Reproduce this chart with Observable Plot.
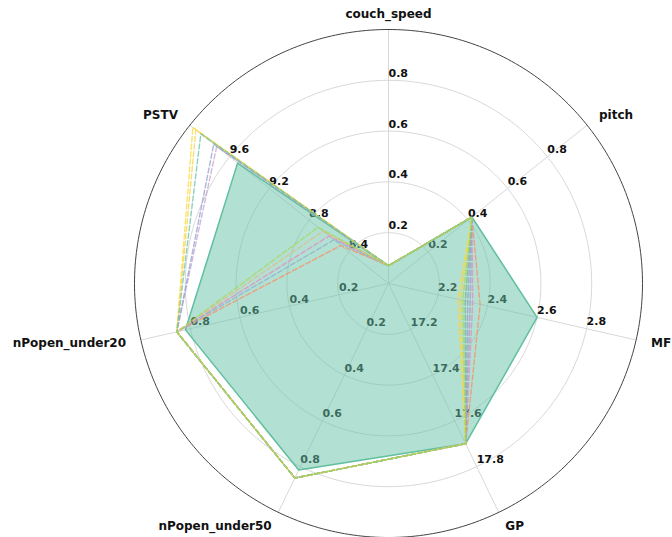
<!DOCTYPE html>
<html><head><meta charset="utf-8">
<script src="https://cdn.jsdelivr.net/npm/d3@7"></script>
<script src="https://cdn.jsdelivr.net/npm/@observablehq/plot@0.6"></script>
<style>body{margin:0;background:#fff;font-family:"DejaVu Sans",sans-serif;}</style>
</head><body><div id="chart"></div>
<script>
// ---- data ----
const axes = ["couch_speed", "pitch", "MF", "GP", "nPopen_under50", "nPopen_under20", "PSTV"];
const axisMin = [0, 0, 2, 17, 0, 0, 8];
const axisMax = [1, 1, 3, 18, 1, 1, 10];
const tickLabels = [
  ["0.2", "0.4", "0.6", "0.8"],
  ["0.2", "0.4", "0.6", "0.8"],
  ["2.2", "2.4", "2.6", "2.8"],
  ["17.2", "17.4", "17.6", "17.8"],
  ["0.2", "0.4", "0.6", "0.8"],
  ["0.2", "0.4", "0.6", "0.8"],
  ["8.4", "8.8", "9.2", "9.6"]
];
// filled reference profile
const meanValues = [0.07, 0.42, 2.60, 17.70, 0.815, 0.82, 9.52];
// dashed profiles
const seriesNames = ["s1", "s2", "s3", "s4", "s5", "s6", "s7", "s8", "s9", "s10"];
const seriesColors = ["#fc8d62", "#e78ac3", "#8db0d0", "#e5b98a", "#c7a0d0", "#8da0cb", "#f5d34a", "#ffd92f", "#66c2a5", "#a6d854"];
const seriesValues = [
  [0.07, 0.42, 2.37, 17.70, 0.85, 0.855, 8.48],
  [0.07, 0.42, 2.34, 17.70, 0.85, 0.855, 8.60],
  [0.07, 0.42, 2.33, 17.70, 0.85, 0.855, 8.55],
  [0.07, 0.42, 2.31, 17.70, 0.85, 0.855, 8.66],
  [0.07, 0.42, 2.33, 17.70, 0.85, 0.855, 9.73],
  [0.07, 0.42, 2.32, 17.70, 0.85, 0.855, 9.76],
  [0.07, 0.42, 2.29, 17.70, 0.85, 0.855, 9.94],
  [0.07, 0.42, 2.28, 17.70, 0.85, 0.855, 9.97],
  [0.07, 0.42, 2.31, 17.70, 0.85, 0.855, 9.89],
  [0.07, 0.42, 2.30, 17.70, 0.85, 0.855, 8.71]
];

// ---- geometry helpers ----
const n = axes.length;
const ang = i => i * 2 * Math.PI / n;
const norm = (v, i) => (v - axisMin[i]) / (axisMax[i] - axisMin[i]);
const pt = (r, i) => ({x: r * Math.sin(ang(i)), y: r * Math.cos(ang(i))});

const meanPts = meanValues.map((v, i) => ({axis: axes[i], ...pt(norm(v, i), i)}));
const dashPts = seriesValues.flatMap((vals, s) =>
  vals.map((v, i) => ({series: seriesNames[s], color: seriesColors[s], axis: axes[i], ...pt(norm(v, i), i)})));

const ringPts = [1, 2, 3, 4].flatMap(k => d3.range(0, 361, 2).map(a => ({
  k, x: (k / 5) * Math.sin(a * Math.PI / 180), y: (k / 5) * Math.cos(a * Math.PI / 180)})));
const outerPts = d3.range(0, 361, 1).map(a => ({x: Math.sin(a * Math.PI / 180), y: Math.cos(a * Math.PI / 180)}));
const spokes = axes.map((a, i) => ({axis: a, ...pt(1, i)}));
const ticks = tickLabels.flatMap((labs, i) => labs.map((t, k) => ({text: t, ...pt((k + 1) / 5, i)})));
const labelR = 1.06;
const axisLabels = axes.map((a, i) => {
  const s = Math.sin(ang(i));
  return {text: a, anchor: Math.abs(s) < 0.01 ? "middle" : s > 0 ? "start" : "end", ...pt(labelR, i)};
});

const font = "DejaVu Sans";
const chart = Plot.plot({
  width: 672, height: 537,
  marginLeft: 134, marginRight: 30, marginTop: 29, marginBottom: 0,
  x: {domain: [-1, 1], axis: null},
  y: {domain: [-1, 1], axis: null},
  color: {type: "identity"},
  style: {fontFamily: font, background: "#fff", overflow: "visible"},
  marks: [
    Plot.line(ringPts, {x: "x", y: "y", z: "k", stroke: "#d4d4d4", strokeWidth: 0.9}),
    Plot.link(spokes, {x1: d => 0, y1: d => 0, x2: "x", y2: "y", stroke: "#d4d4d4", strokeWidth: 0.9}),
    Plot.line(outerPts, {x: "x", y: "y", stroke: "#444", strokeWidth: 1}),
    Plot.text(ticks, {x: "x", y: "y", text: "text", textAnchor: "start", dy: -7, fontSize: 11, fontWeight: "bold", fill: "#111"}),
    ...["start", "middle", "end"].map(anc => Plot.text(axisLabels.filter(d => d.anchor === anc),
      {x: "x", y: "y", text: "text", textAnchor: anc, fontSize: 12, fontWeight: "bold", fill: "#111"})),
    Plot.line(meanPts, {x: "x", y: "y", curve: "linear-closed", fill: "#66c2a5", fillOpacity: 0.5, stroke: "#5fbf9f", strokeWidth: 1.5}),
    Plot.line(dashPts, {x: "x", y: "y", z: "series", stroke: "color", curve: "linear-closed", strokeWidth: 1.4, strokeDasharray: "5,2.5", strokeOpacity: 0.75})
  ]
});
document.getElementById("chart").appendChild(chart);
</script>
</body></html>
